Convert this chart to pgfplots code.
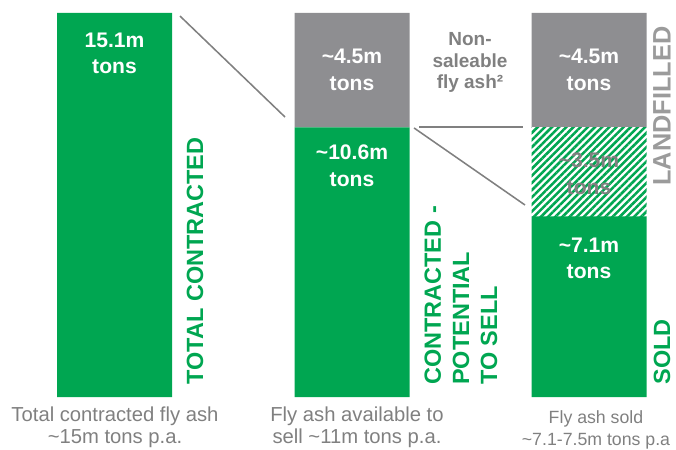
\documentclass[border=0pt]{standalone}
\usepackage{fontspec}
\setmainfont{Liberation Sans}
\usepackage{pgfplots}
\pgfplotsset{compat=1.18}
\usetikzlibrary{patterns.meta}
\definecolor{fagreen}{RGB}{0,166,81}
\definecolor{fagray}{RGB}{142,142,145}
\definecolor{txtgray}{RGB}{128,128,128}
\definecolor{lightgray}{RGB}{155,155,155}
\tikzset{val/.style={font=\bfseries\fontsize{15}{19}\selectfont,align=center,text=white},
  vlab/.style={font=\bfseries\fontsize{16.7}{20}\selectfont,rotate=90,inner sep=0pt},
  cat/.style={font=\fontsize{14.4}{16}\selectfont,align=center,text=txtgray}}
% annotations, drawn after the (postponed) stacked bars
\newcommand{\annotations}{%
  \draw[txtgray,line width=1.1pt] (axis cs:180,14.98) -- (axis cs:285,11.01);
  \draw[txtgray,line width=1.1pt] (axis cs:419,10.62) -- (axis cs:523,10.62);
  \draw[txtgray,line width=1.1pt] (axis cs:414,10.58) -- (axis cs:525,7.55);
  \node[val] at (axis cs:114.5,13.51) {15.1m\\tons};
  \node[val] at (axis cs:352,12.86) {\textasciitilde4.5m\\tons};
  \node[val] at (axis cs:352,9.08) {\textasciitilde10.6m\\tons};
  \node[val] at (axis cs:589,12.86) {\textasciitilde4.5m\\tons};
  \node[val,text=txtgray] at (axis cs:589,8.77) {\textasciitilde3.5m\\tons};
  \node[val] at (axis cs:589,5.45) {\textasciitilde7.1m\\tons};
  \node[font=\bfseries\fontsize{13.5}{15.3}\selectfont,align=center,text=txtgray]
    at (axis cs:470,13.14) {Non-\\saleable\\fly ash²};
  \node[vlab,text=fagreen] at (axis cs:195,5.35) {TOTAL CONTRACTED};
  \node[vlab,text=fagreen,align=left,anchor=west] at (axis cs:461,0.47)
    {CONTRACTED -\\POTENTIAL\\TO SELL};
  \node[vlab,text=lightgray,font=\bfseries\fontsize{18}{20}\selectfont]
    at (axis cs:662,11.44) {LANDFILLED};
  \node[vlab,text=fagreen] at (axis cs:662,1.77) {SOLD};
  \node[cat] at (axis cs:115,-1.2) {Total contracted fly ash\\\textasciitilde15m tons p.a.};
  \node[cat] at (axis cs:357,-1.2) {Fly ash available to\\sell \textasciitilde11m tons p.a.};
  \node[cat,font=\fontsize{12.6}{15.5}\selectfont] at (axis cs:596,-1.3)
    {Fly ash sold\\\textasciitilde7.1-7.5m tons p.a};
}
\begin{document}
\begin{tikzpicture}
\begin{axis}[width=16.9cm,height=11.25cm,scale only axis,
  xmin=0,xmax=676,ymin=-2.084,ymax=15.611,
  hide axis,clip=false,
  ybar stacked,bar width=115,
  after end axis/.code={\annotations}]
% sold / contracted (green)
\addplot[fill=fagreen,draw=none] coordinates {(114.5,15.1) (352,10.6) (589,7.1)};
% landfilled share of saleable ash (hatched)
\addplot[draw=none,preaction={fill=white},
  pattern={Lines[angle=45,distance=3.6pt,line width=1.8pt]},pattern color=fagreen]
  coordinates {(114.5,0) (352,0) (589,3.5)};
% non-saleable (grey)
\addplot[fill=fagray,draw=none] coordinates {(114.5,0) (352,4.5) (589,4.5)};
\end{axis}
\pgfresetboundingbox
\useasboundingbox (current axis.south west) rectangle (current axis.north east);
\end{tikzpicture}
\end{document}
